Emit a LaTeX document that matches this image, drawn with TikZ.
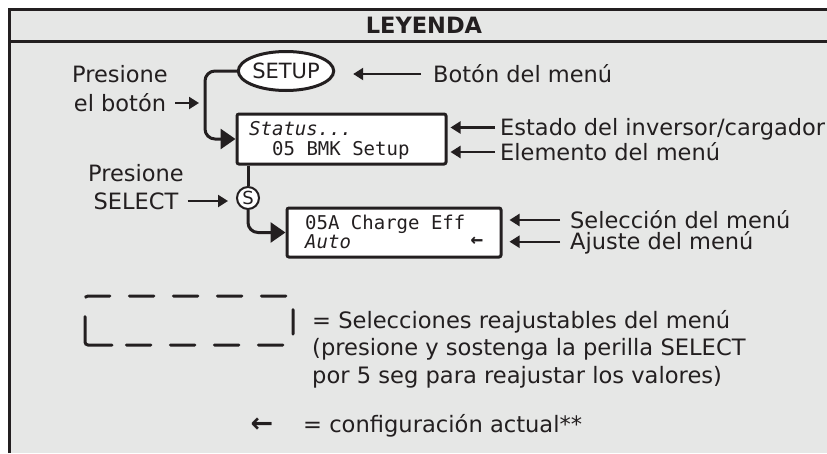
\documentclass[tikz,border=0pt]{standalone}
\usepackage{fontspec}
\setmainfont{DejaVu Sans}
\newfontfamily\monof{DejaVu Sans Mono}
\usetikzlibrary{shapes.geometric,arrows.meta}
\definecolor{ink}{RGB}{35,31,32}
\definecolor{bgray}{RGB}{230,231,230}
\tikzset{
  lbl/.style={inner sep=0pt, anchor=west, text height=16pt, text depth=0pt, font=\fontsize{22.5}{27}\selectfont, text=ink},
  lower/.style={inner sep=0pt, anchor=base west, font=\fontsize{22.6}{27}\selectfont, text=ink},
  mono/.style={inner sep=0pt, anchor=base west, font=\monof\fontsize{19}{20}\selectfont, text=ink},
  monoit/.style={mono, font=\monof\itshape\fontsize{19}{20}\selectfont},
  lcd/.style={draw=ink, fill=white, line width=3pt, rounded corners=2pt, inner sep=0pt},
  conn/.style={draw=ink, line width=3pt, rounded corners=10pt, -{Triangle[length=15pt,width=20pt]}},
  link/.style={draw=ink, line width=3pt},
  larrow/.style={draw=ink, line width=2.2pt, -{Triangle[length=10pt,width=12pt]}},
  frame/.style={draw=ink, line width=3pt},
  dashbox/.style={draw=ink, line width=3pt, line cap=round, rounded corners=3pt,
    dash pattern=on 54pt off 19.5pt on 24.5pt off 19.5pt on 24.5pt off 19.5pt on 24.5pt off 19.5pt on 24.5pt off 19.5pt on 24.5pt off 19.5pt on 24.5pt off 19.5pt on 24.5pt off 19.5pt on 24.5pt off 19.5pt on 24.5pt off 19.5pt on 24.5pt off 19.5pt}
}
\begin{document}
\begin{tikzpicture}[x=1pt,y=-1pt]
\useasboundingbox (0,0) rectangle (827,453);
% background and frame
\fill[bgray] (9.5,9.5) rectangle (827,453);
\draw[frame] (9.5,453) -- (9.5,9.5) -- (827,9.5);
\draw[frame] (9.5,41.5) -- (827,41.5);
\node[inner sep=0pt, text=ink, font=\bfseries\fontsize{22.5}{27}\selectfont] (title) at (424,25) {LEYENDA};

% main nodes
\node[lcd, minimum width=209pt, minimum height=50pt] (sbox) at (341.5,139) {};
\node[lcd, minimum width=214pt, minimum height=49pt] (mbox) at (394,232.5) {};
\node[ellipse, draw=ink, fill=white, line width=3pt, minimum width=90pt, minimum height=39pt, inner sep=0pt, text=ink, font=\fontsize{21}{24}\selectfont] (setup) at (286,71) {SETUP};
\node[circle, draw=ink, fill=white, line width=2pt, minimum size=22pt, inner sep=0pt, text=ink, font=\fontsize{18}{18}\selectfont] (sel) at (248,198) {S};

% box texts
\node[monoit] (st1) at (249,135.5) {Status...};
\node[mono] (st2) at (272,155) {05 BMK Setup};
\node[mono] (m1) at (305,229) {05A Charge Eff};
\node[monoit] (m2) at (305,248.5) {Auto};
\node[mono, anchor=center, font=\monof\bfseries\fontsize{21}{22}\selectfont] (m3) at (477,242) {←};

% connectors
\coordinate (c1) at (205,139);
\draw[conn] (setup.west) -| (c1) -- (sbox.west);
\draw[link] (sbox.south -| sel) -- (sel.north);
\draw[conn] (sel.south) |- (mbox.west);

% right labels
\node[lbl] (l1) at (433,74) {Botón del menú};
\node[lbl] (l2) at (500,127.5) {Estado del inversor/cargador};
\node[lbl] (l3) at (500,152) {Elemento del menú};
\node[lbl] (l4) at (570,220) {Selección del menú};
\node[lbl] (l5) at (570,241.7) {Ajuste del menú};
\draw[larrow, shorten <=12pt, shorten >=18pt] (l1.west) -- (setup.east |- l1.west);
\draw[larrow, shorten <=5pt, shorten >=3pt] (l2.west) -- (sbox.east |- l2.west);
\draw[larrow, shorten <=5pt, shorten >=3pt] (l3.west) -- (sbox.east |- l3.west);
\draw[larrow, shorten <=10pt, shorten >=7pt] (l4.west) -- (mbox.east |- l4.west);
\draw[larrow, shorten <=10pt, shorten >=7pt] (l5.west) -- (mbox.east |- l5.west);

% left labels
\node[lbl, anchor=center] (p1) at (120,74) {Presione};
\node[lbl, anchor=center] (p2) at (120,103) {el botón};
\node[lbl, anchor=center] (p3) at (136,173) {Presione};
\node[lbl, anchor=center] (p4) at (136,201) {SELECT};
\draw[larrow, shorten <=9pt, shorten >=6pt] (p2.east) -- (c1 |- p2.east);
\draw[larrow, shorten <=9pt, shorten >=8pt] (p4.east) -- (sel.west |- p4.east);

% dashed legend box
\draw[dashbox] (115,345) -- (85,345) -- (85,296) -- (293,296) -- (293,345) -- cycle;
\node[lower] (t1) at (312,328) {= Selecciones reajustables del menú};
\node[lower] (t2) at (312,355) {(presione y sostenga la perilla SELECT};
\node[lower] (t3) at (312,383) {por 5 seg para reajustar los valores)};
\node[inner sep=0pt, text=ink, font=\bfseries\fontsize{27}{30}\selectfont] (t4) at (262,425) {←};
\node[lower] (t5) at (303,432) {= configuración actual**};
\end{tikzpicture}
\end{document}
